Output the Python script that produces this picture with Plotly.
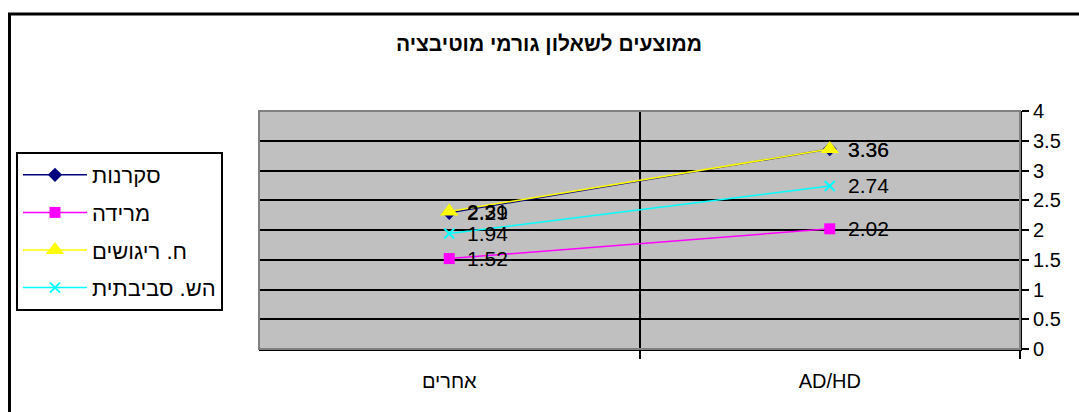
import plotly.graph_objects as go

categories = ["AD/HD", "אחרים"]
series_names = ["סקרנות", "מרידה", "ח. ריגושים", "הש. סביבתית"]
curiosity = [3.36, 2.29]
rebellion = [2.02, 1.52]
thrill = [3.36, 2.31]
environment = [2.74, 1.94]
y_ticks = [0, 0.5, 1, 1.5, 2, 2.5, 3, 3.5, 4]

series_values = [curiosity, rebellion, thrill, environment]
colors = ["#000080", "#FF00FF", "#FFFF00", "#00FFFF"]
symbols = ["diamond", "square", "triangle-up", "x-thin-open"]
sizes = [11, 11, 16, 10]

FONT = "Arial, Liberation Sans, sans-serif"
W, H = 1079, 412
L, R, T, B = 259, 1020, 111, 349

fig = go.Figure()
for i, (name, vals) in enumerate(zip(series_names, series_values)):
    fig.add_trace(go.Scatter(
        x=categories, y=vals, name=name, mode="lines+markers",
        legendgroup=str(i),
        line=dict(color=colors[i], width=1.5),
        marker=dict(symbol=symbols[i], size=sizes[i], color=colors[i],
                    line=dict(color=colors[i], width=2 if symbols[i].startswith("x") else 0)),
    ))

annotations = []
for vals in series_values:
    for c, v in zip(categories, vals):
        annotations.append(dict(x=c, y=v, xref="x", yref="y", text=f"{v:.2f}",
                                showarrow=False, xanchor="left", yanchor="middle",
                                xshift=16, font=dict(size=21, color="black", family=FONT)))

def px_x(p):
    return (p - L) / (R - L)

def px_y(p):
    return (B - p) / (B - T)

shapes = [
    dict(type="rect", xref="paper", yref="paper",
         x0=px_x(9.5), x1=px_x(1090), y0=px_y(425), y1=px_y(14),
         line=dict(color="black", width=3), fillcolor="rgba(0,0,0,0)", layer="below"),
    dict(type="rect", xref="paper", yref="paper", x0=0, x1=1, y0=0, y1=1,
         line=dict(color="#808080", width=2), fillcolor="rgba(0,0,0,0)", layer="above"),
]

fig.update_layout(
    width=W, height=H,
    margin=dict(l=L, r=W - R, t=T, b=H - B, autoexpand=False),
    paper_bgcolor="white", plot_bgcolor="#C0C0C0",
    font=dict(family=FONT, color="black"),
    title=dict(text="<b>ממוצעים לשאלון גורמי מוטיבציה</b>", x=549 / W, xanchor="center",
               xref="container", y=1 - 44 / H, yref="container", yanchor="middle",
               font=dict(size=21, family=FONT, color="black")),
    showlegend=True,
    legend=dict(x=px_x(16), y=px_y(152), xanchor="left", yanchor="top",
                bordercolor="black", borderwidth=2, bgcolor="white",
                font=dict(size=22, family=FONT, color="black"),
                tracegroupgap=6, itemwidth=64),
    annotations=annotations,
    shapes=shapes,
)
fig.update_xaxes(type="category", range=[1.5, -0.5], autorange=False, tickson="boundaries",
                 ticks="outside", ticklen=8, tickcolor="black", tickwidth=2,
                 showline=True, linecolor="black", linewidth=2,
                 showgrid=True, gridcolor="black", gridwidth=2,
                 tickangle=0, automargin=False,
                 tickfont=dict(size=20, family=FONT, color="black"),
                 ticklabelstandoff=13)
fig.update_yaxes(side="right", range=[0, 4], tickvals=y_ticks,
                 ticktext=[f"{t:g}" for t in y_ticks],
                 ticks="outside", ticklen=7, tickcolor="black", tickwidth=2,
                 showline=True, linecolor="black", linewidth=2,
                 showgrid=True, gridcolor="black", gridwidth=2, zeroline=False,
                 automargin=False,
                 tickfont=dict(size=20, family=FONT, color="black"))

fig.write_html("out.html")
